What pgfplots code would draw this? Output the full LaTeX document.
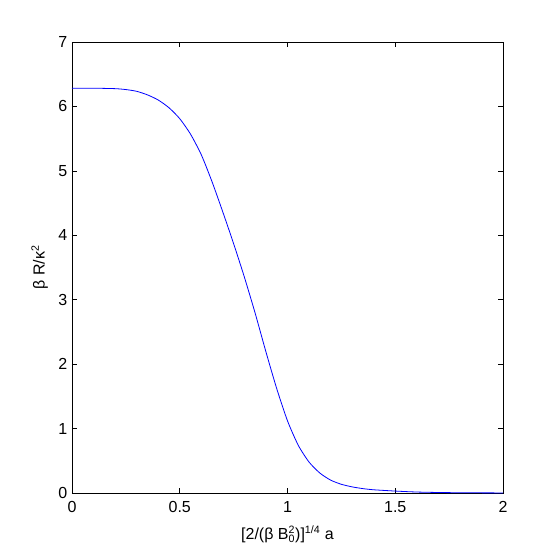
\documentclass[border=0pt]{standalone}
\usepackage{fontspec}
\setmainfont{Liberation Sans}
\usepackage{pgfplots}
\pgfplotsset{compat=1.18}

\begin{document}
\begin{tikzpicture}[x=0.75pt,y=0.75pt]
\path[use as bounding box] (0,0) rectangle (554,554);
\begin{axis}[
  at={(54pt,45.75pt)}, anchor=south west,
  scale only axis, width=323.25pt, height=338.25pt,
  xmin=0, xmax=2, ymin=0, ymax=7,
  xtick={0,0.5,1,1.5,2}, ytick={0,1,2,3,4,5,6,7},
  tick align=inside, major tick length=4pt,
  tick style={black, line width=0.4pt},
  axis line style={black, line width=0.5pt},
  tick label style={font=\fontsize{12}{14}\selectfont},
  /pgf/number format/assume math mode=true,
  xticklabel style={yshift=-3pt},
  label style={font=\fontsize{12}{14}\selectfont},
  xlabel={[2/(β B\rlap{\textsuperscript{2}}\textsubscript{0})]\textsuperscript{1/4} a},
  ylabel={β R/κ\textsuperscript{2}},
  xlabel style={yshift=-3pt},
  ylabel style={yshift=1pt},
]
\addplot[blue, line width=0.6pt, smooth, tension=0.4] coordinates {
(0,6.283) (0.1,6.283) (0.2,6.276) (0.25,6.262) (0.3,6.235) (0.35,6.18)
(0.4,6.10) (0.45,5.98) (0.5,5.81) (0.55,5.57) (0.6,5.25) (0.65,4.83)
(0.7,4.36) (0.75,3.87) (0.8,3.35) (0.85,2.79) (0.9,2.19) (0.95,1.62)
(1.0,1.12) (1.05,0.74) (1.1,0.48) (1.15,0.31) (1.2,0.20) (1.25,0.135)
(1.3,0.095) (1.35,0.068) (1.4,0.05) (1.5,0.03) (1.6,0.015) (1.7,0.008)
(1.8,0.004) (2.0,0.001)
};
\end{axis}
\end{tikzpicture}
\end{document}
